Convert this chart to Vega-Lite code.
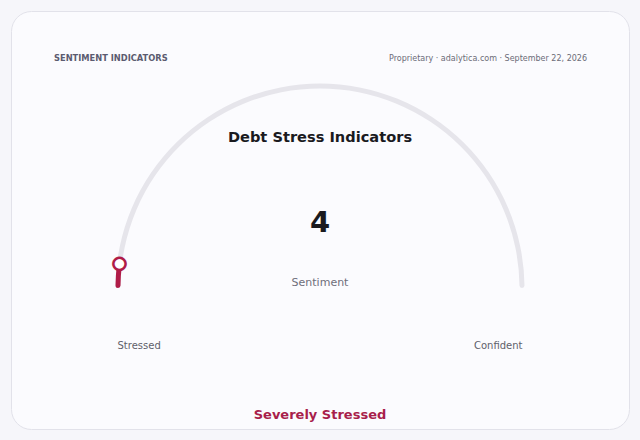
{
  "$schema": "https://vega.github.io/schema/vega-lite/v6.json",
  "width": 618,
  "height": 418,
  "padding": 11,
  "autosize": {"type": "none"},
  "background": "#f6f6fa",
  "config": {
    "view": {"fill": "#fbfbfe", "stroke": "#e2e2ea", "strokeWidth": 1, "cornerRadius": 20},
    "font": "DejaVu Sans"
  },
  "data": {
    "values": [
      {
        "panel": "SENTIMENT INDICATORS",
        "source": "Proprietary · adalytica.com · September 22, 2026",
        "indicator": "Debt Stress Indicators",
        "metric": "Sentiment",
        "value": 4,
        "min": 0,
        "max": 100,
        "low": "Stressed",
        "high": "Confident",
        "status": "Severely Stressed"
      }
    ]
  },
  "layer": [
    {
      "mark": {"type": "arc", "color": "#e6e5eb", "radius": 204.5, "radius2": 199.5, "cornerRadius": 2.5},
      "encoding": {
        "x": {"datum": 0, "type": "quantitative", "scale": {"domain": [-309, 309], "nice": false, "zero": false}, "axis": null},
        "y": {"datum": 0, "type": "quantitative", "scale": {"domain": [-141, 277], "nice": false, "zero": false}, "axis": null},
        "theta": {"field": "min", "type": "quantitative", "scale": {"domain": [0, 100], "range": [-1.5708, 1.5708]}},
        "theta2": {"field": "max"}
      }
    },
    {
      "mark": {"type": "arc", "color": "#b01c48", "radius": 204.5, "radius2": 199.5, "cornerRadius": 2.5},
      "encoding": {
        "x": {"datum": 0, "type": "quantitative", "scale": {"domain": [-309, 309], "nice": false, "zero": false}, "axis": null},
        "y": {"datum": 0, "type": "quantitative", "scale": {"domain": [-141, 277], "nice": false, "zero": false}, "axis": null},
        "theta": {"field": "min", "type": "quantitative", "scale": {"domain": [0, 100], "range": [-1.5708, 1.5708]}},
        "theta2": {"field": "value"}
      }
    },
    {
      "mark": {"type": "text", "text": "●", "fontSize": 16, "fill": "#ffffff", "stroke": "#b01c48", "strokeWidth": 2.5, "align": "center", "baseline": "middle", "radius": 202},
      "encoding": {
        "x": {"datum": 0, "type": "quantitative", "scale": {"domain": [-309, 309], "nice": false, "zero": false}, "axis": null},
        "y": {"datum": 0, "type": "quantitative", "scale": {"domain": [-141, 277], "nice": false, "zero": false}, "axis": null},
        "theta": {"field": "value", "type": "quantitative", "scale": {"domain": [0, 100], "range": [-1.5708, 1.5708]}}
      }
    },
    {
      "mark": {"type": "text", "fontSize": 8.3, "fontWeight": "bold", "color": "#5b5b70", "align": "left", "baseline": "alphabetic"},
      "encoding": {
        "x": {"datum": -266, "type": "quantitative", "scale": {"domain": [-309, 309], "nice": false, "zero": false}, "axis": null},
        "y": {"datum": 227, "type": "quantitative", "scale": {"domain": [-141, 277], "nice": false, "zero": false}, "axis": null},
        "text": {"field": "panel"}
      }
    },
    {
      "mark": {"type": "text", "fontSize": 8, "color": "#6b6b78", "align": "right", "baseline": "alphabetic"},
      "encoding": {
        "x": {"datum": 267, "type": "quantitative", "scale": {"domain": [-309, 309], "nice": false, "zero": false}, "axis": null},
        "y": {"datum": 227, "type": "quantitative", "scale": {"domain": [-141, 277], "nice": false, "zero": false}, "axis": null},
        "text": {"field": "source"}
      }
    },
    {
      "mark": {"type": "text", "fontSize": 14.6, "fontWeight": "bold", "color": "#1a1a1f", "align": "center", "baseline": "alphabetic"},
      "encoding": {
        "x": {"datum": 0, "type": "quantitative", "scale": {"domain": [-309, 309], "nice": false, "zero": false}, "axis": null},
        "y": {"datum": 145.7, "type": "quantitative", "scale": {"domain": [-141, 277], "nice": false, "zero": false}, "axis": null},
        "text": {"field": "indicator"}
      }
    },
    {
      "mark": {"type": "text", "fontSize": 29, "fontWeight": "bold", "color": "#1a1a1f", "align": "center", "baseline": "alphabetic"},
      "encoding": {
        "x": {"datum": 0, "type": "quantitative", "scale": {"domain": [-309, 309], "nice": false, "zero": false}, "axis": null},
        "y": {"datum": 56.5, "type": "quantitative", "scale": {"domain": [-141, 277], "nice": false, "zero": false}, "axis": null},
        "text": {"field": "value"}
      }
    },
    {
      "mark": {"type": "text", "fontSize": 11, "color": "#6e6e7a", "align": "center", "baseline": "alphabetic"},
      "encoding": {
        "x": {"datum": 0, "type": "quantitative", "scale": {"domain": [-309, 309], "nice": false, "zero": false}, "axis": null},
        "y": {"datum": 2, "type": "quantitative", "scale": {"domain": [-141, 277], "nice": false, "zero": false}, "axis": null},
        "text": {"field": "metric"}
      }
    },
    {
      "mark": {"type": "text", "fontSize": 10, "color": "#5f5f6a", "align": "left", "baseline": "alphabetic"},
      "encoding": {
        "x": {"datum": -202.5, "type": "quantitative", "scale": {"domain": [-309, 309], "nice": false, "zero": false}, "axis": null},
        "y": {"datum": -61, "type": "quantitative", "scale": {"domain": [-141, 277], "nice": false, "zero": false}, "axis": null},
        "text": {"field": "low"}
      }
    },
    {
      "mark": {"type": "text", "fontSize": 10, "color": "#5f5f6a", "align": "right", "baseline": "alphabetic"},
      "encoding": {
        "x": {"datum": 202.5, "type": "quantitative", "scale": {"domain": [-309, 309], "nice": false, "zero": false}, "axis": null},
        "y": {"datum": -61, "type": "quantitative", "scale": {"domain": [-141, 277], "nice": false, "zero": false}, "axis": null},
        "text": {"field": "high"}
      }
    },
    {
      "mark": {"type": "text", "fontSize": 13, "fontWeight": "bold", "color": "#a81e4b", "align": "center", "baseline": "alphabetic"},
      "encoding": {
        "x": {"datum": 0, "type": "quantitative", "scale": {"domain": [-309, 309], "nice": false, "zero": false}, "axis": null},
        "y": {"datum": -131, "type": "quantitative", "scale": {"domain": [-141, 277], "nice": false, "zero": false}, "axis": null},
        "text": {"field": "status"}
      }
    }
  ]
}
